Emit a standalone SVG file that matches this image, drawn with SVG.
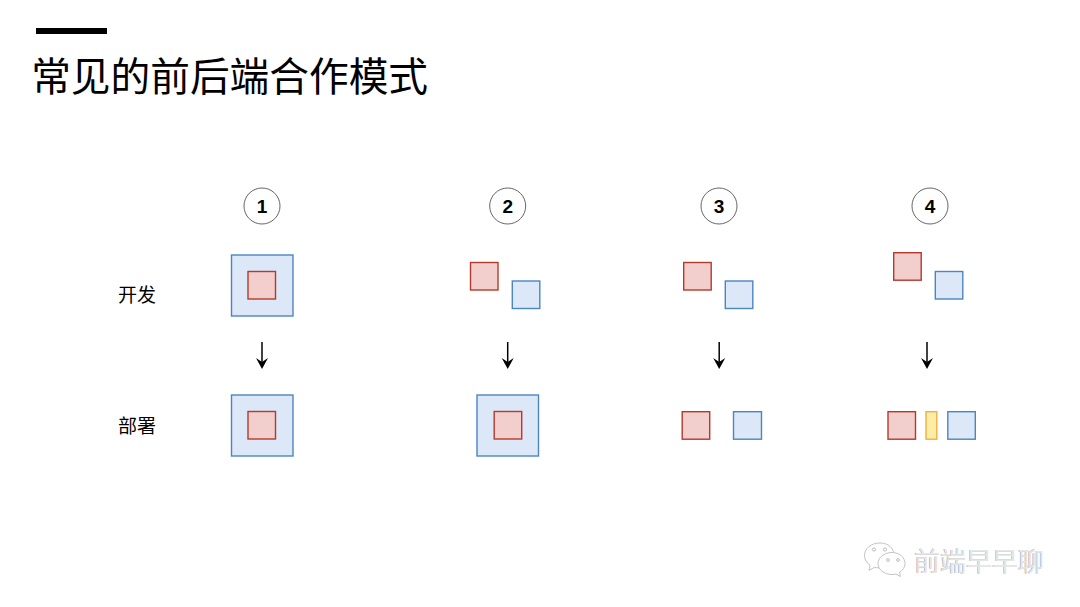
<svg xmlns="http://www.w3.org/2000/svg" width="1080" height="607" viewBox="0 0 1080 607">
<style>
text{font-family:"Liberation Sans","Noto Sans CJK SC",sans-serif;fill:#000}
.cjk{font-family:"Noto Sans CJK SC",sans-serif}
.num{font-size:19px;font-weight:bold;text-anchor:middle}
.lab{font-size:19px}
.c{fill:#fff;stroke:#666;stroke-width:1}
.r{fill:#f2cfcd;stroke:#b5392c;stroke-width:1.400}
.b{fill:#dce7f8;stroke:#4a86bf;stroke-width:1.400}
.y{fill:#fcedA6;stroke:#f0b03c;stroke-width:1.400}
.a{stroke:#000;stroke-width:1.500;fill:none;marker-end:url(#ah)}
.wm{font-size:26px}
.bub{fill:#fff;stroke:#c4c4c4;stroke-width:1}
.dot{fill:none;stroke:#bdbdbd;stroke-width:1}
</style>
<defs>
<marker id="ah" markerUnits="userSpaceOnUse" markerWidth="12" markerHeight="13" refX="8" refY="6.500" orient="auto" viewBox="0 0 12 13"><path d="M0 .5L11 6.500 0 12.500 4 6.500Z" fill="#000"/></marker>
</defs>
<g id="title">
<rect x="36" y="28" width="71" height="6" fill="#000"/>
<text class="cjk" x="31.200" y="91" font-size="39.700">常见的前后端合作模式</text>
</g>
<g id="row-labels">
<text id="label-dev" class="cjk lab" x="118" y="301.500">开发</text>
<text id="label-deploy" class="cjk lab" x="118" y="432.500">部署</text>
</g>
<g id="mode-1">
<circle class="c" cx="262" cy="206" r="18"/><text class="num" x="262" y="212.500">1</text>
<g id="m1-dev"><rect class="b" x="231.500" y="255" width="61.500" height="61"/><rect class="r" x="248" y="271.500" width="27.500" height="27.500"/></g>
<g id="m1-deploy"><rect class="b" x="231.500" y="395" width="61.500" height="61"/><rect class="r" x="248" y="411.500" width="27.500" height="27.500"/></g>
</g>
<g id="mode-2">
<circle class="c" cx="507.700" cy="206" r="18"/><text class="num" x="507.700" y="212.500">2</text>
<g id="m2-dev"><rect class="r" x="470.500" y="262.500" width="27.500" height="27.500"/><rect class="b" x="512.300" y="281" width="27.500" height="27.500"/></g>
<g id="m2-deploy"><rect class="b" x="477" y="395" width="61.500" height="61"/><rect class="r" x="494.200" y="411.500" width="27.500" height="27.500"/></g>
</g>
<g id="mode-3">
<circle class="c" cx="719" cy="206" r="18"/><text class="num" x="719" y="212.500">3</text>
<g id="m3-dev"><rect class="r" x="683.700" y="262.500" width="27.500" height="27.500"/><rect class="b" x="725.300" y="281" width="27.500" height="27.500"/></g>
<g id="m3-deploy"><rect class="r" x="682.200" y="411.700" width="27.500" height="27.500"/><rect class="b" x="733.500" y="411.700" width="28" height="27.500"/></g>
</g>
<g id="mode-4">
<circle class="c" cx="930" cy="206" r="18"/><text class="num" x="930" y="212.500">4</text>
<g id="m4-dev"><rect class="r" x="893.700" y="252.700" width="27.500" height="27.500"/><rect class="b" x="935.300" y="271.500" width="27.500" height="27.500"/></g>
<g id="m4-deploy"><rect class="r" x="888" y="411.700" width="27.500" height="27.500"/><rect class="y" x="926" y="411.700" width="10.800" height="27.500"/><rect class="b" x="947.800" y="411.700" width="27.500" height="27.500"/></g>
</g>
<g id="connectors">
<path class="a" d="M262 342V366"/>
<path class="a" d="M507.700 342V366"/>
<path class="a" d="M719.200 342V366"/>
<path class="a" d="M927 342V366"/>
</g>
<g id="watermark">
<path class="bub" d="M880 543c-9 0-15.500 5.500-15.500 12.500 0 4 2.200 7.500 5.500 9.800l-1 5 5.500-3c1.500.4 3 .6 4.500.6 8 0 15-6 15-12.500S889 543 880 543Z"/>
<path class="bub" d="M892 552.500c-8 0-14 5-14 11s6 11 14 11c1.300 0 2.600-.2 3.800-.5l4.700 2.500-.9-4.300c3.300-2 5.400-5.200 5.400-8.700 0-6-5.600-11-13-11Z"/>
<circle class="dot" cx="874" cy="549.500" r="1.600"/><circle class="dot" cx="885" cy="549.500" r="1.600"/>
<circle class="dot" cx="888" cy="560" r="1.400"/><circle class="dot" cx="898" cy="560" r="1.400"/>
<text class="cjk wm" x="913.500" y="570.500" style="fill:#9c9c9c">前端早早聊</text>
<text class="cjk wm" x="914.100" y="570.900" style="fill:#e6e6e6">前端早早聊</text>
</g>
</svg>
